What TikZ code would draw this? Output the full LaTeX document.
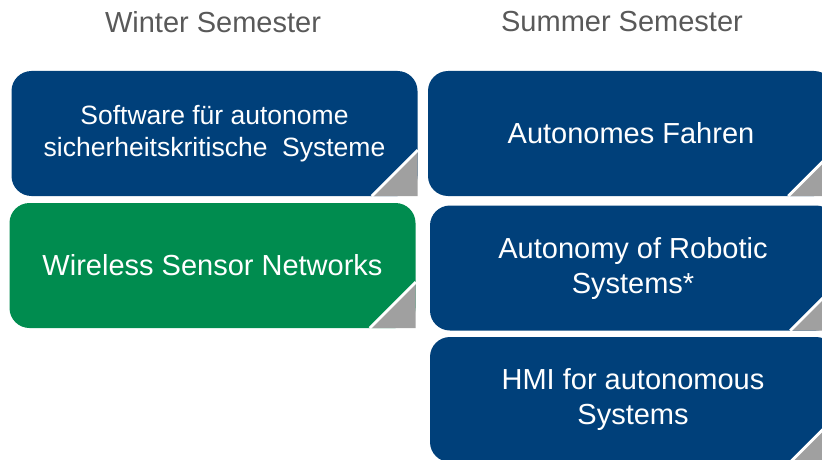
\documentclass[tikz,border=0pt]{standalone}
\usepackage{fontspec}
\setmainfont{Liberation Sans}
\usetikzlibrary{calc}
\definecolor{lvblue}{RGB}{0,64,122}
\definecolor{lvgreen}{RGB}{0,140,79}
\definecolor{foldgray}{RGB}{160,160,160}
\definecolor{headgray}{RGB}{89,89,89}
\begin{document}
\begin{tikzpicture}
[x=1pt, y=1pt,
 every node/.style = {align=center, inner sep=0pt},
 course/.style = {shape=rectangle, rounded corners=20pt,
	minimum width=406pt, minimum height=125pt,
	text=white, font=\fontsize{29}{35}\selectfont},
 head/.style = {text=headgray, font=\fontsize{29}{35}\selectfont},
 fold/.style = {fill=foldgray}]
 \path[use as bounding box, clip] (0,0) rectangle (822,459);

  % Semester
  \node[head] (winter) at (213,437) {Winter Semester};
  \node[head] (summer) at (622,437) {Summer Semester};

  % Winter
  \node[course, fill=lvblue, font=\fontsize{26.5}{32}\selectfont] (swasys) at (214.5,325.5)
  	{Software für autonome\\sicherheitskritische\ \ Systeme};
  \node[course, fill=lvgreen] (wsn) at (212.5,193.5) {Wireless Sensor Networks};

  % Summer
  \node[course, fill=lvblue] (autofahren) at (631,325.5) {Autonomes Fahren};
  \node[course, fill=lvblue] (robotic) at (633,191) {Autonomy of Robotic\\Systems*};
  \node[course, fill=lvblue] (hmi) at (633,59.5) {HMI for autonomous\\Systems};

  % Ecken
  \foreach \n in {swasys,wsn,autofahren,robotic,hmi} {
  	\fill[fold] (\n.south east) -- ++(0,46) -- ++(-46,-46) -- cycle;
  	\draw[white, line width=2.8pt] ($(\n.south east)+(0,46)$) -- ($(\n.south east)+(-46,0)$);
  }
\end{tikzpicture}
\end{document}
